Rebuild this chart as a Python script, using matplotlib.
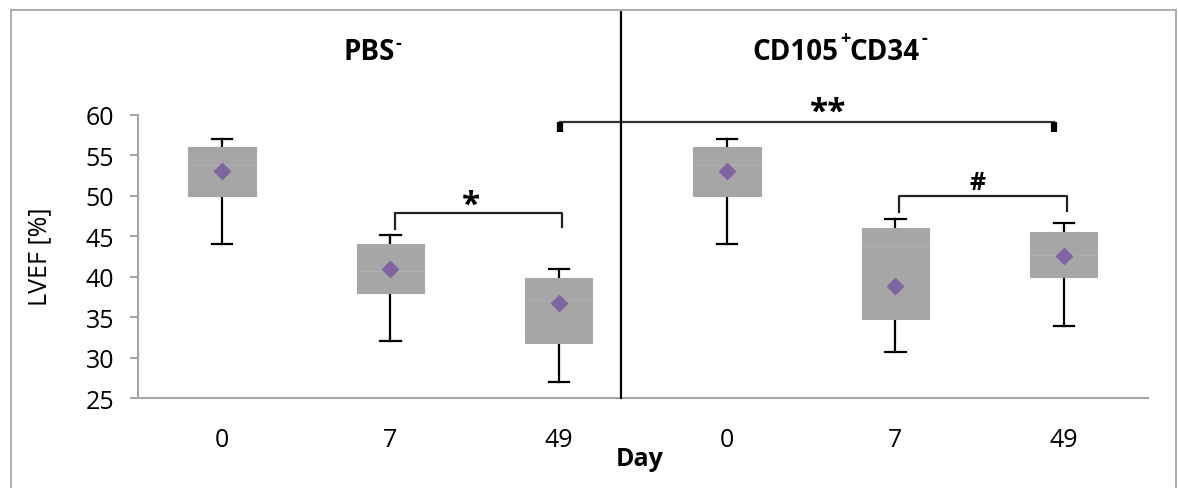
import matplotlib
matplotlib.use('Agg')
import matplotlib.pyplot as plt
from matplotlib.patches import Rectangle

plt.rcParams['font.family'] = ['Open Sans', 'DejaVu Sans']

# LVEF [%] box summaries
days = ['0', '7', '49', '0', '7', '49']
q1 = [50, 38, 31.8, 50, 34.8, 40]
q3 = [56, 44, 39.8, 56, 46, 45.5]
medians = [53.8, 40.7, 37.1, 53.8, 43.8, 42.7]
whis_lo = [44, 32, 27, 44, 30.7, 33.9]
whis_hi = [57, 45.2, 40.9, 57, 47.1, 46.6]
means = [53.1, 41, 36.8, 53.1, 38.8, 42.6]

box_grey = '#a6a6a6'
axis_grey = '#a6a6a6'
purple = '#8064a2'

fig = plt.figure(figsize=(11.78, 4.89), dpi=100)
ax = fig.add_axes([0.1171, 0.184, 0.8574, 0.5788])

stats = []
for i in range(len(days)):
    stats.append(dict(q1=q1[i], q3=q3[i], med=medians[i], whislo=whis_lo[i],
                      whishi=whis_hi[i], mean=means[i], label=days[i]))

pos = list(range(len(days)))
parts = ax.bxp(stats, positions=pos, widths=0.40, patch_artist=True, showmeans=True,
               showfliers=False, capwidths=0.12,
               boxprops=dict(facecolor=box_grey, edgecolor=box_grey, linewidth=0.8),
               medianprops=dict(color='#afafaf', linewidth=0.8),
               whiskerprops=dict(color='black', linewidth=1.6),
               capprops=dict(color='black', linewidth=1.6),
               meanprops=dict(marker='D', markerfacecolor=purple, markeredgecolor=purple,
                              markersize=8))
# boxes sit on top of whiskers, means on top of everything
for b in parts['boxes']:
    b.set_zorder(3)
for m in parts['medians']:
    m.set_zorder(3.5)
for m in parts['means']:
    m.set_zorder(4)

ax.set_xlim(-0.5, 5.5)
ax.set_ylim(25, 60)
ax.set_yticks(range(25, 61, 5))
ax.set_xticks(pos)
ax.set_xticklabels(days)
for s in ['top', 'right']:
    ax.spines[s].set_visible(False)
for s in ['left', 'bottom']:
    ax.spines[s].set_color(axis_grey)
    ax.spines[s].set_linewidth(1.5)
ax.tick_params(axis='y', direction='out', length=6, width=1.5, color=axis_grey,
               pad=11, labelsize=18)
ax.tick_params(axis='x', length=0, pad=21, labelsize=18)

# group divider
ax.plot([2.37, 2.37], [25, 72.9], color='black', lw=1.6, clip_on=False, zorder=5)

# group titles, superscripts hung off the base text
t_pbs = ax.text(0.72, 67.9, 'PBS', ha='left', va='center', fontsize=20,
                fontweight='bold', clip_on=False)
ax.annotate('-', xy=(1, 0.78), xycoords=t_pbs, xytext=(0.5, 0), textcoords='offset points',
            ha='left', va='center', fontsize=13, fontweight='bold')

t_cd1 = ax.text(3.15, 67.9, 'CD105', ha='left', va='center', fontsize=20,
                fontweight='bold', clip_on=False)
ax.annotate('+', xy=(1, 0.95), xycoords=t_cd1, xytext=(1, 0), textcoords='offset points',
            ha='left', va='center', fontsize=13, fontweight='bold')
t_cd2 = ax.annotate('CD34', xy=(1, 0), xycoords=t_cd1, xytext=(8, 0),
                    textcoords='offset points', ha='left', va='bottom',
                    fontsize=20, fontweight='bold')
ax.annotate('-', xy=(1, 0.95), xycoords=t_cd2, xytext=(1.5, 0), textcoords='offset points',
            ha='left', va='center', fontsize=13, fontweight='bold')

# significance brackets
ax.plot([2.01, 4.94], [59.1, 59.1], color='#333333', lw=1.6, clip_on=False)
ax.plot([2.01, 2.01], [59.1, 57.9], color='black', lw=4.5, solid_capstyle='butt', clip_on=False)
ax.plot([4.94, 4.94], [59.1, 57.9], color='black', lw=4.5, solid_capstyle='butt', clip_on=False)
ax.text(3.60, 60.3, '**', ha='center', va='center', fontsize=24, fontweight='bold')

ax.plot([1.03, 1.03, 2.02, 2.02], [45.9, 47.9, 47.9, 46.1], color='#222222', lw=1.6)
ax.text(1.48, 48.9, '*', ha='center', va='center', fontsize=24, fontweight='bold')

ax.plot([4.02, 4.02, 5.02, 5.02], [48.0, 50.0, 50.0, 48.1], color='#222222', lw=1.6)
ax.text(4.49, 51.7, '#', ha='center', va='center', fontsize=18, fontweight='bold')

fig.text(640 / 1178, 1 - 460 / 489, 'Day', ha='center', va='center',
         fontsize=18, fontweight='bold')
fig.text(40 / 1178, 1 - 257 / 489, 'LVEF [%]', ha='center', va='center',
         fontsize=18, rotation=90)

# outer chart frame
fig.patches.append(Rectangle((11 / 1178, -0.1), 1165 / 1178, 1.1 - 11 / 489,
                             transform=fig.transFigure, fill=False,
                             edgecolor='#b0b0b0', lw=1.5))

fig.savefig('out.png', dpi=100)
